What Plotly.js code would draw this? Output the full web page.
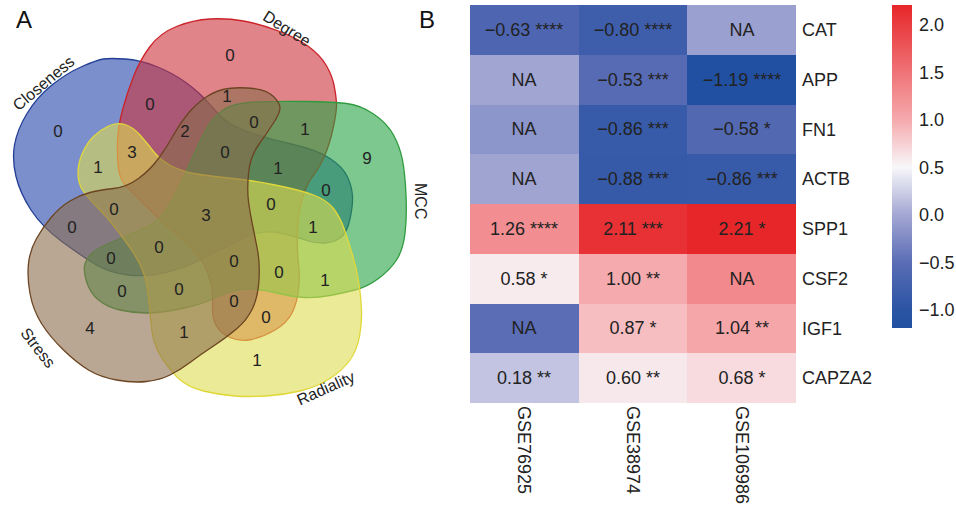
<!DOCTYPE html>
<html><head><meta charset="utf-8">
<script src="https://cdn.plot.ly/plotly-3.0.1.min.js"></script>
<style>html,body{margin:0;padding:0;background:#fff}#chart{width:956px;height:506px}</style>
</head><body><div id="chart"></div>
<script>
// ---------- Panel A: 5-set Venn ----------
const setNames = ['Closeness', 'Degree', 'MCC', 'Radiality', 'Stress'];
const regionCounts = [0,0,9,1,4, 0,1,2,0,1, 3,1,0,1,0, 0,3,0,0,1, 0,0,0,0,1, 0,0,0,0,1];
// label positions (px in the panel frame)
const countX = [58,230,367,257,90, 150,227,185,254,305, 132,98,225,278,326, 271,206,114,72,313, 159,111,234,279,325, 122,179,234,266,184];
const countY = [133,57,160,362,330, 106,98,133,124,131, 154,169,154,170,192, 206,217,211,229,229, 249,260,263,274,282, 293,291,303,319,334];

// outlines (px in the panel frame)
const outlineCloseness = [[110,58],[140,60],[173,73],[200,93],[217,113],[233,127],[273,140],[317,150],[343,167],[352,187],[353,205],[347,233],[333,243],[313,243],[297,237],[273,231],[253,233],[227,247],[213,253],[187,267],[147,277],[110,273],[83,257],[42,227],[20,193],[12,160],[17,130],[37,97],[67,73],[97,60]];
const outlineDegree = [[140,60],[160,33],[193,20],[227,18],[260,24],[297,38],[320,55],[332,75],[336,95],[337,110],[330,143],[320,167],[307,183],[298,213],[297,250],[300,277],[297,303],[287,323],[263,337],[240,342],[220,333],[212,317],[213,290],[207,270],[200,257],[180,237],[157,217],[133,193],[120,180],[117,157],[118,127],[127,93]];
const outlineMCC = [[233,103],[280,101],[333,102],[360,105],[387,123],[400,147],[405,173],[407,217],[403,250],[390,270],[367,287],[343,293],[317,298],[293,297],[265,290],[243,288],[220,295],[200,305],[160,313],[133,313],[107,307],[90,293],[83,270],[87,257],[100,247],[117,240],[140,230],[160,220],[175,195],[187,170],[200,140],[213,117]];
const outlineRadiality = [[117,122],[133,127],[147,143],[160,160],[183,172],[217,177],[250,180],[300,190],[327,200],[340,217],[348,240],[357,270],[361,297],[362,323],[357,350],[343,370],[317,387],[283,395],[250,397],[220,395],[187,387],[167,367],[153,343],[150,313],[147,283],[140,263],[127,243],[107,217],[87,197],[78,183],[78,163],[87,143],[100,130]];
const outlineStress = [[43,227],[60,207],[80,195],[100,190],[127,187],[150,170],[167,147],[180,123],[197,103],[217,90],[240,87],[267,90],[280,103],[280,113],[267,133],[250,157],[247,190],[250,213],[255,237],[260,263],[258,297],[247,320],[227,337],[200,355],[180,370],[160,380],[133,383],[100,377],[77,363],[50,337],[33,310],[27,277],[30,250]];

const setFill = ['rgba(35,68,172,0.6)','rgba(203,50,60,0.6)','rgba(38,163,68,0.6)','rgba(222,220,80,0.6)','rgba(138,108,75,0.6)'];
const setLine = ['#233e94','#cc2229','#2f9b3e','#e0d83a','#6c4422'];
const setLabelX = [43, 287, 421, 325, 38];
const setLabelY = [83, 28, 201, 388, 347];
const setLabelAngle = [-40, 32, 90, -24, 52];

// ---------- Panel B: heatmap ----------
const genes = ['CAT','APP','FN1','ACTB','SPP1','CSF2','IGF1','CAPZA2'];
const datasets = ['GSE76925','GSE38974','GSE106986'];
const logFC = [
  [-0.63, -0.80, null],
  [null, -0.53, -1.19],
  [null, -0.86, -0.58],
  [null, -0.88, -0.86],
  [1.26, 2.11, 2.21],
  [0.58, 1.00, null],
  [null, 0.87, 1.04],
  [0.18, 0.60, 0.68]
];
const stars = [
  ['****','****',''],
  ['','***','****'],
  ['','***','*'],
  ['','***','***'],
  ['****','***','*'],
  ['*','**',''],
  ['','*','**'],
  ['**','**','*']
];
// colour shown in the NA cells
const naShade = [
  [null, null, -0.06],
  [-0.02, null, null],
  [-0.15, null, null],
  [-0.03, null, null],
  [null, null, null],
  [null, null, 1.30],
  [-0.50, null, null],
  [null, null, null]
];
const colorTicks = [-1.0, -0.5, 0.0, 0.5, 1.0, 1.5, 2.0];

// ---------- build ----------
function smoothPath(pts){
  const n = pts.length;
  const mid = (a,b) => [(a[0]+b[0])/2, (a[1]+b[1])/2];
  const m0 = mid(pts[n-1], pts[0]);
  let d = 'M' + m0[0] + ',' + m0[1];
  for (let i = 0; i < n; i++) {
    const p = pts[i], q = mid(pts[i], pts[(i+1)%n]);
    d += ' Q' + p[0] + ',' + p[1] + ' ' + q[0] + ',' + q[1];
  }
  return d + ' Z';
}
const outlines = [outlineCloseness, outlineDegree, outlineMCC, outlineRadiality, outlineStress];
const shapes = outlines.map((o, i) => ({
  type: 'path', xref: 'x2', yref: 'y2', path: smoothPath(o),
  fillcolor: setFill[i], line: {color: setLine[i], width: 1.3}, layer: 'below'
}));

const fmt = v => (v < 0 ? '\u2212' : '') + Math.abs(v).toFixed(2);
const zVals = logFC.map((row, r) => row.map((v, c) => v === null ? naShade[r][c] : v));
const cellText = logFC.map((row, r) => row.map((v, c) => v === null ? 'NA' : fmt(v) + ' ' + stars[r][c]));

const FONT = 'Liberation Sans, Arial, Helvetica, sans-serif';

const traces = [
  {
    type: 'scatter', mode: 'text', xaxis: 'x2', yaxis: 'y2',
    x: countX, y: countY, text: regionCounts.map(String),
    textfont: {family: FONT, size: 17, color: '#222'}, hoverinfo: 'skip', showlegend: false
  },
  {
    type: 'heatmap', x: datasets, y: genes, z: zVals, text: cellText,
    texttemplate: '%{text}', textfont: {family: FONT, size: 18, color: '#222'},
    zmin: -1.19, zmax: 2.21,
    colorscale: [[0,'#2150a2'],[0.056,'#2b54a4'],[0.203,'#5a6db5'],[0.35,'#a3a7d3'],[0.497,'#f8f7fa'],[0.644,'#f5aaad'],[1,'#e7262a']],
    hoverinfo: 'skip',
    colorbar: {
      x: 892/956, xanchor: 'left', xpad: 0, y: 1 - 5/506, yanchor: 'top', ypad: 0,
      len: 323/506, lenmode: 'fraction', thickness: 20, outlinewidth: 0,
      tickvals: colorTicks, tickformat: '.1f', ticks: 'outside', ticklen: 4, tickcolor: 'rgba(0,0,0,0)',
      tickfont: {family: FONT, size: 18, color: '#222'}
    }
  }
];

const annotations = setNames.map((s, i) => ({
  xref: 'x2', yref: 'y2', x: setLabelX[i], y: setLabelY[i], text: s, showarrow: false,
  xanchor: 'center', yanchor: 'middle',
  textangle: setLabelAngle[i], font: {family: FONT, size: 16, color: '#222'}
}));
annotations.push({xref:'paper', yref:'paper', x: 24/956, y: 1 - 20/506, text: 'A', showarrow: false,
  xanchor: 'center', yanchor: 'middle', font: {family: FONT, size: 24, color: '#111'}});
annotations.push({xref:'paper', yref:'paper', x: 427/956, y: 1 - 20/506, text: 'B', showarrow: false,
  xanchor: 'center', yanchor: 'middle', font: {family: FONT, size: 24, color: '#111'}});

const layout = {
  width: 956, height: 506, margin: {l: 0, r: 0, t: 0, b: 0},
  paper_bgcolor: '#fff', plot_bgcolor: 'rgba(0,0,0,0)', showlegend: false,
  xaxis: {domain: [470/956, 796/956], anchor: 'y', showgrid: false, zeroline: false, showline: false,
    ticks: '', tickangle: 90, ticklabelstandoff: 2, tickfont: {family: FONT, size: 18, color: '#222'}, fixedrange: true},
  yaxis: {domain: [1 - 403/506, 1 - 5/506], anchor: 'x', side: 'right', autorange: 'reversed',
    showgrid: false, zeroline: false, showline: false, ticks: '', ticklabelstandoff: 5,
    tickfont: {family: FONT, size: 18, color: '#222'}, fixedrange: true},
  xaxis2: {domain: [0, 440/956], range: [0, 440], anchor: 'y2', visible: false, fixedrange: true},
  yaxis2: {domain: [0, 1], range: [506, 0], anchor: 'x2', visible: false, fixedrange: true},
  shapes: shapes, annotations: annotations
};

Plotly.newPlot('chart', traces, layout, {staticPlot: true, displayModeBar: false});
</script></body></html>
